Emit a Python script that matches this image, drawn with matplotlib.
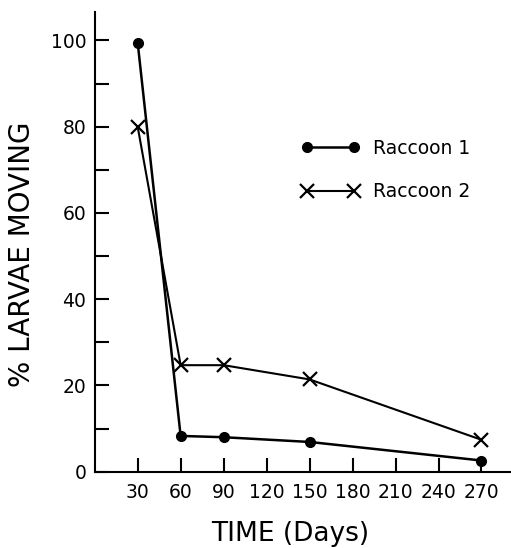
import numpy as np
import matplotlib
matplotlib.use("Agg")
import matplotlib.pyplot as plt
from matplotlib.ticker import MultipleLocator

# Data
days = [30, 60, 90, 150, 270]
raccoon1 = [99.5, 8.3, 8.0, 6.9, 2.6]
raccoon2 = [80.0, 24.7, 24.7, 21.4, 7.4]
xticks = [30, 60, 90, 120, 150, 180, 210, 240, 270]
yticks = [0, 20, 40, 60, 80, 100]

plt.rcParams['font.family'] = ['DejaVu Sans']

fig = plt.figure(figsize=(5.11, 5.48), dpi=100)
ax = fig.add_axes([0.1853, 0.1392, 0.813, 0.839])

ax.plot(days, raccoon1, color='black', linewidth=1.8, marker='o', markersize=7,
        label='Raccoon 1')
ax.plot(days, raccoon2, color='black', linewidth=1.5, marker='x', markersize=10,
        markeredgewidth=1.6, label='Raccoon 2')

ax.set_xlim(0, 290)
ax.set_ylim(0, 106.6)
ax.set_xticks(xticks)
ax.set_yticks(yticks)
ax.yaxis.set_minor_locator(MultipleLocator(10))

for s in ['top', 'right']:
    ax.spines[s].set_visible(False)
for s in ['left', 'bottom']:
    ax.spines[s].set_linewidth(1.5)

ax.tick_params(which='both', direction='in', length=10, width=1.5, labelsize=13.5)
ax.tick_params(axis='y', pad=6)
ax.tick_params(axis='x', pad=8)

ax.set_ylabel('% LARVAE MOVING', fontsize=20)
ax.yaxis.set_label_coords(-0.142, 0.472)
ax.set_xlabel('TIME (Days)', fontsize=19)
ax.xaxis.set_label_coords(0.47, -0.108)

ax.legend(loc='upper left', bbox_to_anchor=(0.498, 0.724), frameon=False,
          fontsize=13.5, numpoints=2, handlelength=3.1, handletextpad=0.7,
          labelspacing=1.3, borderpad=0, borderaxespad=0)

fig.savefig('out.png', dpi=100)
